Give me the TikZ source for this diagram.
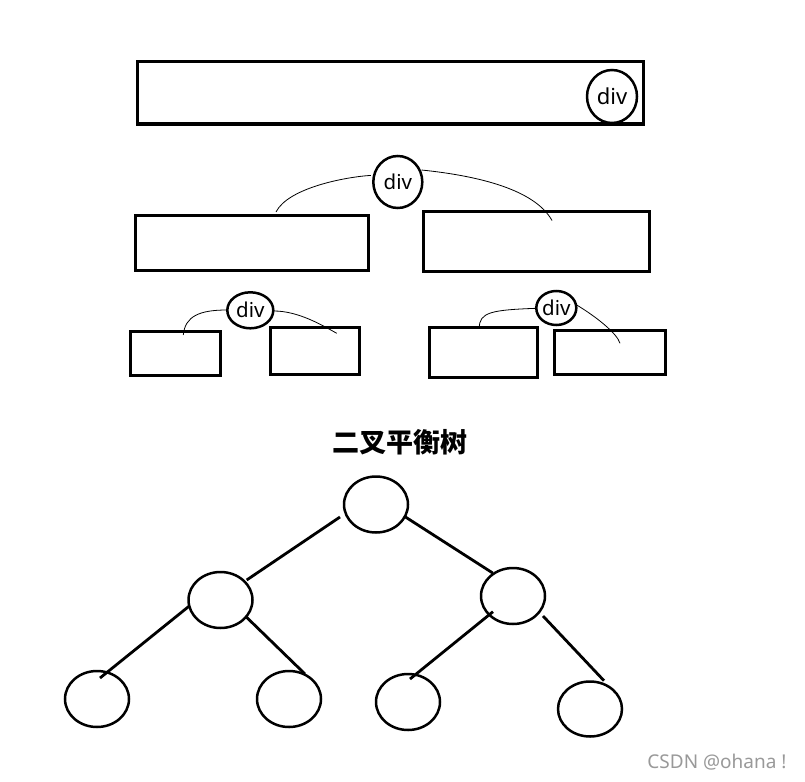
\documentclass[tikz,border=0pt]{standalone}
\usepackage{fontspec}
\setmainfont{Noto Sans}
\newfontfamily\cjk{Noto Sans CJK SC}
\usetikzlibrary{shapes.geometric}
\tikzset{
  box/.style={draw, line width=3, inner sep=0, rectangle},
  divc/.style={draw, ellipse, line width=2.5, inner sep=0, font=\fontsize{20.5}{24}\selectfont},
  tnode/.style={draw, ellipse, line width=2.5, inner sep=0, minimum width=64, minimum height=56},
  link/.style={line width=0.8},
  tedge/.style={line width=2.8},
}
\begin{document}
\begin{tikzpicture}[x=1pt,y=-1pt]
\fill[white] (0,0) rectangle (805,781);
\path[use as bounding box] (0,0) rectangle (805,781);
% top row
\node[box, minimum width=506, minimum height=62] (top) at (390,93) {};
\node[divc, minimum width=50, minimum height=53, fill=white, font=\fontsize{22}{26}\selectfont] (ctop) at (612,96.5) {div};
% middle row
\node[box, minimum width=233, minimum height=55] (mL) at (251.5,242.5) {};
\node[box, minimum width=226, minimum height=60] (mR) at (536.5,241.5) {};
\node[divc, minimum width=49, minimum height=52] (cmid) at (397.8,182) {div};
\draw[link] ([shift={(-27,-6.6)}]cmid.center) .. controls (345,177) and (288,188) .. ([shift={(24.5,-30.5)}]mL.center);
\draw[link] ([shift={(23.7,-12)}]cmid.center) .. controls (480,176) and (535,190) .. ([shift={(15.5,-21)}]mR.center);
% small row
\node[box, minimum width=90, minimum height=44] (b1) at (175,353) {};
\node[box, minimum width=88.6, minimum height=47] (b2) at (315,350.8) {};
\node[box, minimum width=108, minimum height=50] (b3) at (483.3,352.3) {};
\node[box, minimum width=111, minimum height=43.6] (b4) at (609.5,352.5) {};
\node[divc, minimum width=46, minimum height=36] (c1) at (250.3,310.3) {div};
\node[divc, minimum width=39.4, minimum height=34] (c2) at (556.3,308) {div};
\draw[link] ([shift={(-23.6,-0.3)}]c1.center) .. controls (200,310) and (185,316) .. ([shift={(8.3,-18)}]b1.center);
\draw[link] ([shift={(23.7,0.7)}]c1.center) .. controls (298,311) and (322,325) .. ([shift={(21.7,-17.5)}]b2.center);
\draw[link] ([shift={(-20.3,0.3)}]c2.center) .. controls (492,310) and (479,312) .. ([shift={(-4,-24)}]b3.center);
\draw[link] ([shift={(20.4,-3)}]c2.center) .. controls (595,316) and (617,333) .. ([shift={(10.5,-9.2)}]b4.center);
% title
\node[font=\cjk\bfseries\fontsize{27}{31}\selectfont, inner sep=0] (title) at (399.5,442.5) {二叉平衡树};
% tree
\node[tnode] (root) at (376,504.5) {};
\node[tnode] (L) at (220.5,600) {};
\node[tnode] (R) at (513,596) {};
\node[tnode] (LL) at (97,699) {};
\node[tnode] (LR) at (289,699) {};
\node[tnode] (RL) at (408,702) {};
\node[tnode, minimum height=55] (RR) at (590,709) {};
\draw[tedge] ([shift={(-36,12.5)}]root.center) -- ([shift={(26.2,-20)}]L.center);
\draw[tedge] ([shift={(29,12.2)}]root.center) -- ([shift={(-20.3,-23)}]R.center);
\draw[tedge] ([shift={(-31.2,6)}]L.center) -- ([shift={(3,-21)}]LL.center);
\draw[tedge] ([shift={(25.5,16.7)}]L.center) -- ([shift={(16,-25)}]LR.center);
\draw[tedge] ([shift={(-20,15.7)}]R.center) -- ([shift={(2,-23)}]RL.center);
\draw[tedge] ([shift={(30,20)}]R.center) -- ([shift={(14,-28.3)}]RR.center);
% watermark
\node[text=black!40, font=\fontsize{19}{22}\selectfont, inner sep=0] (wm) at (717,762) {CSDN @ohana !};
\end{tikzpicture}
\end{document}
